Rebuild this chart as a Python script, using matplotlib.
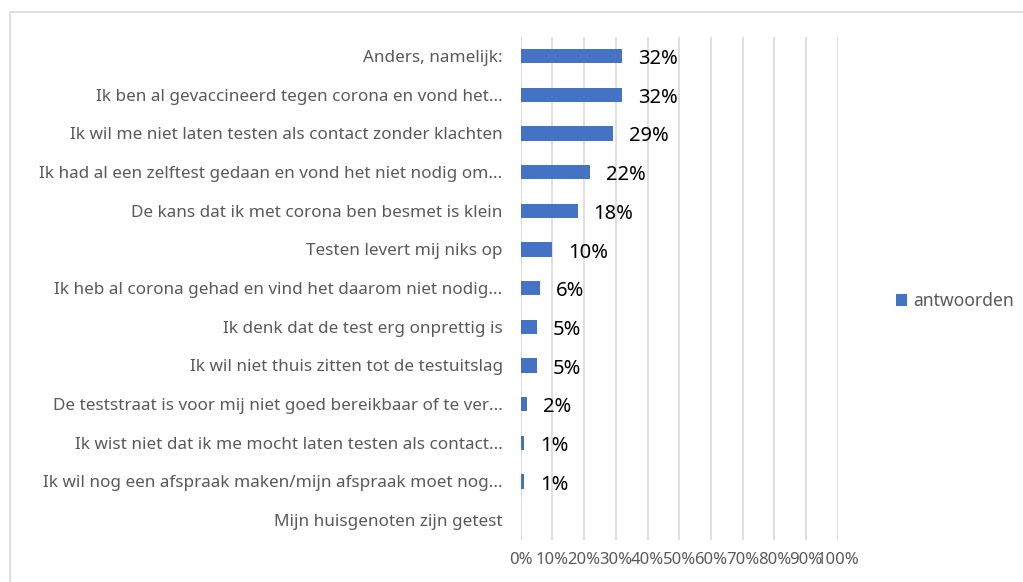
import matplotlib.pyplot as plt
import matplotlib.patches as mpatches
from matplotlib.ticker import FuncFormatter

# Redenen om niet te testen (percentage van de antwoorden)
categorieen = [
    "Anders, namelijk:",
    "Ik ben al gevaccineerd tegen corona en vond het...",
    "Ik wil me niet laten testen als contact zonder klachten",
    "Ik had al een zelftest gedaan en vond het niet nodig om...",
    "De kans dat ik met corona ben besmet is klein",
    "Testen levert mij niks op",
    "Ik heb al corona gehad en vind het daarom niet nodig...",
    "Ik denk dat de test erg onprettig is",
    "Ik wil niet thuis zitten tot de testuitslag",
    "De teststraat is voor mij niet goed bereikbaar of te ver...",
    "Ik wist niet dat ik me mocht laten testen als contact...",
    "Ik wil nog een afspraak maken/mijn afspraak moet nog...",
    "Mijn huisgenoten zijn getest",
]
waarden = [32, 32, 29, 22, 18, 10, 6, 5, 5, 2, 1, 1, 0]
labels = ["32%", "32%", "29%", "22%", "18%", "10%", "6%", "5%", "5%", "2%", "1%", "1%", ""]

plt.rcParams['font.family'] = ['Noto Sans', 'DejaVu Sans']

fig = plt.figure(figsize=(10.23, 5.82), dpi=100)
ax = fig.add_axes([0.509, 0.073, 0.31, 0.864])

# kader rond de grafiek
fig.patches.append(mpatches.Rectangle((10 / 1023, -0.1), 1.2, 1 - 12 / 582 + 0.1,
                                      transform=fig.transFigure, fill=False,
                                      edgecolor='#d9d9d9', linewidth=1.2))

posities = list(range(len(categorieen)))
ax.barh(posities, waarden, height=0.37, color='#4472C4', label='antwoorden', zorder=3)

for p, w, lab in zip(posities, waarden, labels):
    ax.text(w + 5, p + 0.08, lab, va='center', ha='left', fontsize=14.5, color='black')

ax.set_xlim(0, 100)
ax.set_ylim(len(categorieen) - 0.5, -0.5)
ax.set_yticks(posities)
ax.set_yticklabels(categorieen, fontsize=12.3, color='#595959')
ax.set_xticks(range(0, 101, 10))
ax.xaxis.set_major_formatter(FuncFormatter(lambda x, pos: f"{int(x)}%"))
ax.tick_params(axis='x', labelsize=12, labelcolor='#595959', length=0, pad=9)
ax.tick_params(axis='y', length=0, pad=13)

ax.grid(axis='x', color='#d9d9d9', linewidth=1.2, zorder=0)
for s in ax.spines.values():
    s.set_visible(False)
ax.axvline(0, color='#d0d0d0', linewidth=1.2, zorder=1)

fig.legend(loc='center left', bbox_to_anchor=(0.86, 0.482), frameon=False,
           fontsize=12.6, handlelength=0.65, handleheight=0.65, handletextpad=0.35,
           labelcolor='#595959')

fig.savefig('out.png', dpi=100)
